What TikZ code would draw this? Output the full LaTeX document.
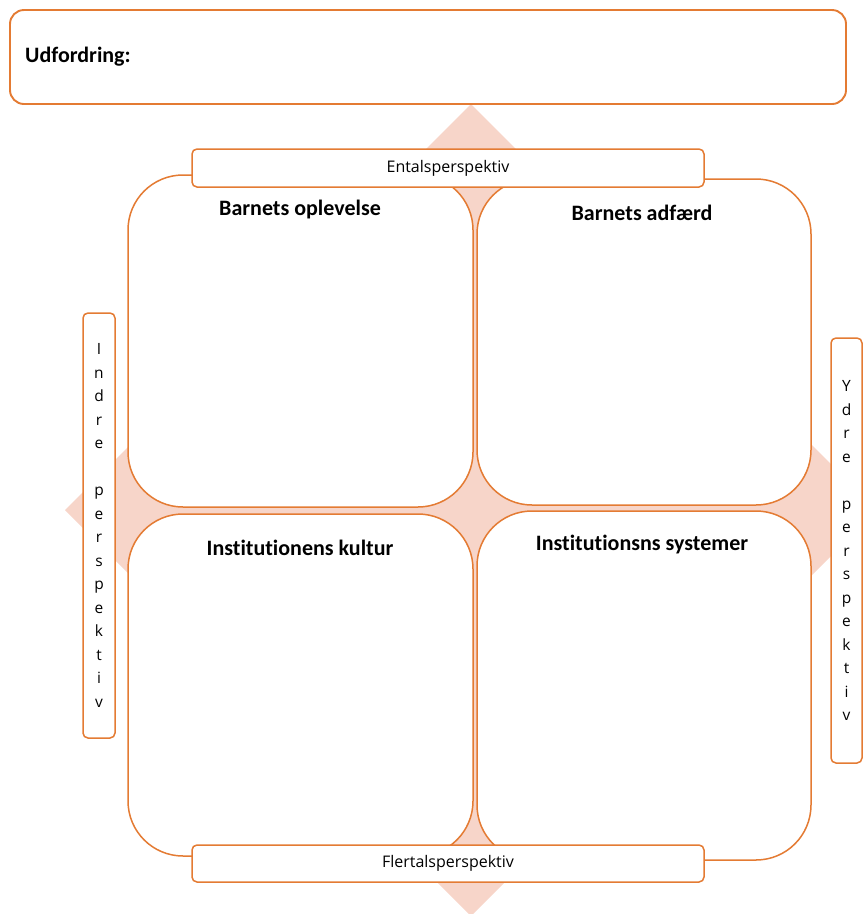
\documentclass[tikz,border=0pt]{standalone}
\usepackage{fontspec}
\setmainfont{Carlito}[Ligatures=NoCommon]
\newfontfamily\tabfont{Open Sans}
\definecolor{boxorange}{HTML}{E47B33}
\definecolor{diamondpink}{HTML}{F7D5C9}

\begin{document}
\begin{tikzpicture}[x=1pt,y=-1pt,
  quad/.style={draw=boxorange,line width=1.5pt,fill=white,rounded corners=55pt},
  tab/.style={draw=boxorange,line width=1.5pt,fill=white,rounded corners=5pt},
  heading/.style={font=\fontsize{22}{26}\selectfont\bfseries},
  tabtext/.style={font=\tabfont\fontsize{16}{19}\selectfont},
  sidetext/.style={font=\tabfont\fontsize{15.5}{23.5}\selectfont,align=center}]

\clip (0,0) rectangle (863,914);

% diamond behind the four fields
\fill[diamondpink] (471,104) -- (877,510) -- (471,916) -- (65,510) -- cycle;

% challenge
\draw[draw=boxorange,line width=1.9pt,fill=white,rounded corners=14pt] (10,10) rectangle (846,104);
\node[heading,anchor=west,inner sep=0pt] (challenge) at (25,57) {Udfordring:};

% four fields
\draw[quad] (128,175) rectangle (473,507);
\draw[quad] (477,179) rectangle (811,505);
\draw[quad] (128,514) rectangle (473,856);
\draw[quad] (477,511) rectangle (811,860);

\node[heading] (experience) at (300,210) {Barnets oplevelse};
\node[heading] (behaviour) at (642,213) {Barnets adfærd};
\node[heading] (culture) at (300,548) {Institutionens kultur};
\node[heading] (systems) at (642,545) {Institutionsns systemer};

% perspectives
\node[tab,tabtext,minimum width=512pt,minimum height=38pt] (singular) at (448,168) {Entalsperspektiv};
\node[tab,tabtext,minimum width=512pt,minimum height=37pt] (plural) at (448,863.5) {Flertalsperspektiv};

\node[tab,minimum width=32pt,minimum height=425pt] (inner) at (99,525.5) {};
\node[sidetext] (innertext) at (inner.center) {I\\n\\d\\r\\e\\\mbox{}\\p\\e\\r\\s\\p\\e\\k\\t\\i\\v};

\node[tab,minimum width=31pt,minimum height=425pt] (outer) at (846.5,550.5) {};
\node[sidetext] (outertext) at (outer.center) {Y\\d\\r\\e\\\mbox{}\\p\\e\\r\\s\\p\\e\\k\\t\\i\\v};

\end{tikzpicture}
\end{document}
